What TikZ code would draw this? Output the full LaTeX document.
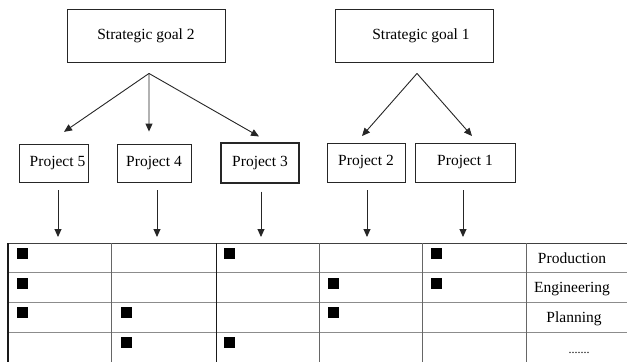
\documentclass[tikz,border=0pt]{standalone}
\usepackage{fontspec}
\setmainfont{Liberation Serif}
\usetikzlibrary{arrows.meta}

\tikzset{
  goalbox/.style={draw=black!85, line width=0.9pt, minimum width=158pt, minimum height=53pt,
    inner sep=0pt, font=\fontsize{15.5}{18}\selectfont},
  projbox/.style={draw=black!85, line width=0.9pt, minimum height=38pt, inner sep=0pt,
    font=\fontsize{15.5}{18}\selectfont},
  link/.style={-{Triangle[length=8pt,width=7pt]}, line width=0.9pt, black!85},
  cellmark/.style={fill=black, minimum size=11pt, inner sep=0pt},
  rowlabel/.style={anchor=base, inner sep=0pt, font=\fontsize{15.5}{18}\selectfont},
  softline/.style={draw=black!45, line width=1pt},
  hardline/.style={draw=black!90, line width=1pt}
}

\begin{document}
\begin{tikzpicture}[x=10pt,y=10pt]
  \useasboundingbox (0,0) rectangle (62.7,-36.2);

  % goals
  \node[goalbox] (sg2) at (14.6,-3.55) {Strategic goal 2};
  \node[goalbox] (sg1) at (41.4,-3.55) {\hspace{14pt}Strategic goal 1};

  % projects
  \node[projbox, minimum width=69pt] (p5) at (5.35,-16.3) {\hspace{8pt}Project 5};
  \node[projbox, minimum width=74pt] (p4) at (15.4,-16.3) {Project 4};
  \node[projbox, minimum width=78pt, minimum height=40pt, line width=1.1pt] (p3) at (26.0,-16.3) {Project 3};
  \node[projbox, minimum width=78pt, minimum height=39pt] (p2) at (36.6,-16.25) {Project 2};
  \node[projbox, minimum width=100pt, minimum height=39pt] (p1) at (46.5,-16.25) {Project 1};

  % goal -> project arrows
  \coordinate (fork2) at ([shift={(0.3,-1.1)}]sg2.south);
  \coordinate (fork1) at ([shift={(0.3,-1.1)}]sg1.south);
  \draw[link] (fork2) -- ([shift={(1.05,1.17)}]p5.north);
  \draw[link] (fork2) -- ([shift={(-0.5,1.2)}]p4.north);
  \draw[link] (fork2) -- ([shift={(-0.1,0.6)}]p3.north);
  \draw[link] (fork1) -- ([shift={(-0.4,0.65)}]p2.north);
  \draw[link] (fork1) -- ([shift={(0.7,0.65)}]p1.north);

  % table
  \coordinate (tl) at (0.8,-24.3);
  \foreach \y in {27.27,30.24,33.21}
    \draw[softline] (0.8,-\y) -- (62.7,-\y);
  \draw[draw=black!75, line width=1pt] (tl) -- (62.7,-24.3);
  \foreach \x in {11.16,31.9,42.2,52.6}
    \draw[draw=black!60, line width=1pt] (\x,-24.3) -- (\x,-36.2);
  \draw[hardline] (21.6,-24.3) -- (21.6,-36.2);
  \draw[hardline, line width=1.6pt] (tl) -- (0.8,-36.2);

  % project -> table arrows
  \foreach \p/\dx in {p5/0.45,p4/0.3,p3/0.1,p2/0.1,p1/-0.2}
    \draw[link, shorten >=6pt] ([shift={(\dx,-0.8)}]\p.south) -- ([xshift=\dx*10pt]\p.south |- tl);

  % marks
  \foreach \c/\r in {1/1,3/1,5/1,1/2,4/2,5/2,1/3,2/3,4/3,2/4,3/4}
    \node[cellmark] (m\c\r) at ({0.8+(\c-1)*10.36+1.45},{-(24.3+(\r-1)*2.97+1.05)}) {};

  % row labels
  \node[rowlabel] (lprod) at (57.2,-26.3) {Production};
  \node[rowlabel] (leng) at (57.2,-29.25) {Engineering};
  \node[rowlabel] (lplan) at (57.4,-32.2) {Planning};
  \node[rowlabel, font=\fontsize{12}{14}\selectfont] (lmore) at (57.9,-35.3) {.......};
\end{tikzpicture}
\end{document}
